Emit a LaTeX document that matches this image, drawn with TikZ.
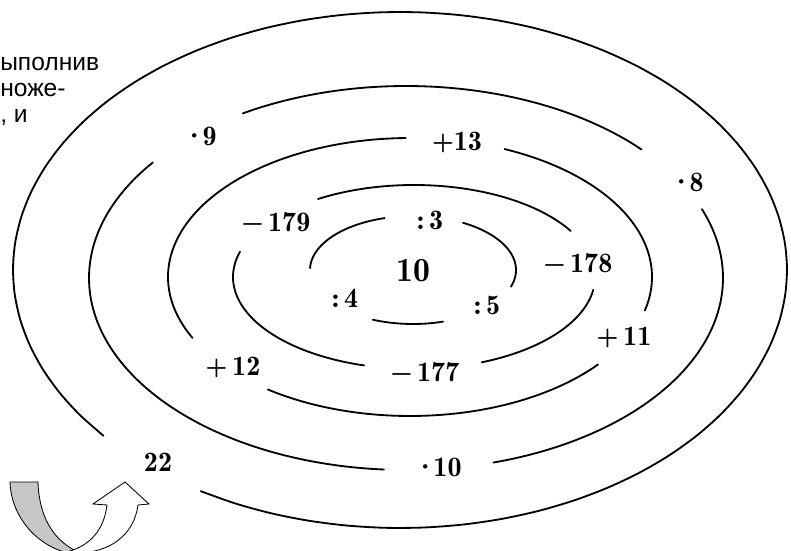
\documentclass[tikz,border=0pt]{standalone}
\usepackage{fontspec}
\newfontfamily\rufont{Liberation Sans}
\newfontfamily\numfont{lmromandemi10-regular.otf}
\usetikzlibrary{positioning}
\tikzset{
  turn/.style={line width=1.3pt, line cap=round},
  lbl/.style={font=\numfont\fontsize{20}{24}\selectfont, inner sep=0pt},
  side/.style={anchor=base west, inner sep=0pt, font=\rufont\fontsize{17.5}{20}\selectfont},
}

\begin{document}
\begin{tikzpicture}[x=0.025cm, y=-0.025cm]
 \useasboundingbox (0,0) rectangle (791,551);
 % broken rings of the spiral
 \foreach \cx/\cy/\rx/\ry/\ta/\tb in {
   413/270/103/54/182/254, 413/270/103/54/299/378, 413/270/103/54/73/113,
   414/277/181/92/238/330, 414/277/181/92/8/68, 414/277/181/92/106/196,
   410/277/242/139/154/269, 410/277/242/139/293/374, 410/277/242/139/39/126,
   406/278/317/192/239/318, 406/278/317/192/339/434, 406/278/317/192/94/217,
   400/270/387/258/140/481}{
   \draw[turn] plot[domain=\ta:\tb, samples=60, smooth] ({\cx+\rx*cos(\x)},{\cy+\ry*sin(\x)});
 }
 % numbers in the gaps
 \node[lbl, font=\numfont\fontsize{24}{30}\selectfont] (start) at (413,271) {10};
 \node[lbl] (d3) at (430,220) {:\,3};
 \node[lbl] (d5) at (487,305) {:\,5};
 \node[lbl] (d4) at (345,298) {:\,4};
 \node[lbl] (m179) at (276,222) {−\,179};
 \node[lbl] (m178) at (578,263) {−\,178};
 \node[lbl] (m177) at (425,372) {−\,177};
 \node[lbl] (p13) at (457,142) {+13};
 \node[lbl] (p11) at (624,337) {+\,11};
 \node[lbl] (p12) at (233,367) {+\,12};
 \node[lbl] (t9) at (200,136) {·\kern-2pt 9};
 \node[lbl] (t8) at (687,182) {·\kern-2pt 8};
 \node[lbl] (t10) at (438,467) {·\kern-2pt 10};
 \node[lbl] (result) at (158,462) {22};
 % text of the page and the turn arrow
 \node[side] (w1) at (0,71) {ыполнив};
 \node[side] (w2) at (0,97) {ноже-};
 \node[side] (w3) at (0,123) {, и};
 \begin{scope}
  \clip (0,0) rectangle (791,551);
  \fill[gray!45, draw=black, line width=0.6pt] (10,482) -- (38,482)
    .. controls (39,515) and (52,538) .. (74,550) -- (68,553)
    .. controls (35,545) and (11,515) .. (10,482) -- cycle;
  \draw[fill=white, line width=0.6pt] (70,551) .. controls (90,545) and (104,530) .. (107,505)
    -- (93,504) -- (125,482) -- (149,504) -- (138,505)
    .. controls (134,535) and (110,553) .. (76,553) -- cycle;
 \end{scope}
\end{tikzpicture}
\end{document}
